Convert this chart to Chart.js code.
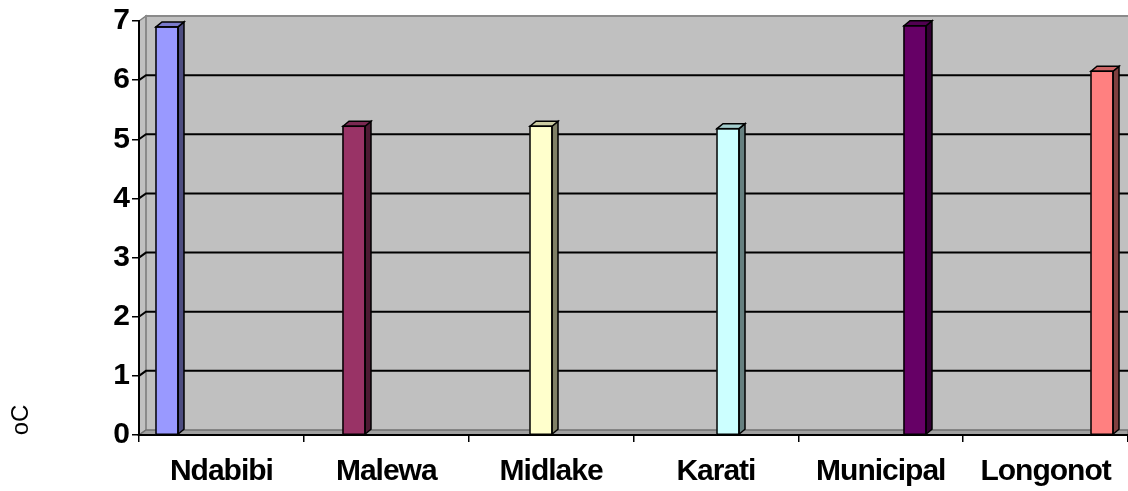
<!DOCTYPE html>
<html>
<head>
<meta charset="utf-8">
<title>Temperature by site</title>
<script src="https://cdn.jsdelivr.net/npm/chart.js@4.4.1/dist/chart.umd.min.js"></script>
<style>
  html, body { margin: 0; padding: 0; background: #ffffff; }
  #wrap { width: 1128px; height: 491px; }
</style>
</head>
<body>
<div id="wrap"><canvas id="chart" width="1128" height="491"></canvas></div>
<script>
// Sites along the x axis and the temperature (°C) measured at each
const categories = ['Ndabibi', 'Malewa', 'Midlake', 'Karati', 'Municipal', 'Longonot'];
const temperatures = [6.9, 5.22, 5.22, 5.18, 6.92, 6.15];
const yTickValues = [0, 1, 2, 3, 4, 5, 6, 7];

// Classic office palette, one colour per column
const faceColors = ['#9999FF', '#993366', '#FFFFCC', '#CCFFFF', '#660066', '#FF8080'];

const FONT = '"Liberation Sans", Arial, sans-serif';
const DEPTH_X = 7, DEPTH_Y = 5;      // wall depth offset
const BAR_DX = 6, BAR_DY = 5;        // column depth offset

function shade(hex, f) {
  const n = parseInt(hex.slice(1), 16);
  const r = Math.round(((n >> 16) & 255) * f);
  const g = Math.round(((n >> 8) & 255) * f);
  const b = Math.round((n & 255) * f);
  return 'rgb(' + r + ',' + g + ',' + b + ')';
}

// Walls, floor and back-wall gridlines of the 3D box
const boxPlugin = {
  id: 'box3d',
  beforeDraw(chart) {
    const { ctx, chartArea: a, scales } = chart;
    const y = scales.y;
    const L = a.left, R = a.right, T = a.top, B = a.bottom;
    // slightly tighter lettering for the bold axis labels
    ctx.letterSpacing = '-1px';
    ctx.save();
    // back wall
    ctx.fillStyle = '#c0c0c0';
    ctx.fillRect(L + DEPTH_X, T - DEPTH_Y, R - L - DEPTH_X, B - T);
    // side wall
    ctx.beginPath();
    ctx.moveTo(L, T); ctx.lineTo(L + DEPTH_X, T - DEPTH_Y);
    ctx.lineTo(L + DEPTH_X, B - DEPTH_Y); ctx.lineTo(L, B);
    ctx.closePath();
    ctx.fillStyle = '#c0c0c0'; ctx.fill();
    ctx.strokeStyle = '#808080'; ctx.lineWidth = 1.5; ctx.stroke();
    // back wall outline
    ctx.beginPath();
    ctx.moveTo(R, T - DEPTH_Y); ctx.lineTo(L + DEPTH_X, T - DEPTH_Y);
    ctx.lineTo(L + DEPTH_X, B - DEPTH_Y);
    ctx.lineWidth = 2; ctx.strokeStyle = '#8a8a8a'; ctx.stroke();
    // floor
    ctx.beginPath();
    ctx.moveTo(L, B); ctx.lineTo(L + DEPTH_X, B - DEPTH_Y);
    ctx.lineTo(R, B - DEPTH_Y); ctx.lineTo(R, B);
    ctx.closePath();
    ctx.fillStyle = '#a0a0a0'; ctx.fill();
    ctx.lineWidth = 1.5; ctx.strokeStyle = '#707070'; ctx.stroke();
    // gridlines on the back wall, running across the side wall
    // (the lowest and highest values are the floor and the wall's top edge)
    ctx.strokeStyle = '#000000'; ctx.lineWidth = 2;
    yTickValues.slice(1, -1).forEach(v => {
      const py = y.getPixelForValue(v);
      ctx.beginPath();
      ctx.moveTo(L, py);
      ctx.lineTo(L + DEPTH_X, py - DEPTH_Y);
      ctx.lineTo(R, py - DEPTH_Y);
      ctx.stroke();
    });
    ctx.restore();
  },
  afterDatasetsDraw(chart) {
    const { ctx } = chart;
    const meta = chart.getDatasetMeta(0);
    ctx.save();
    ctx.lineWidth = 1.5;
    ctx.strokeStyle = '#000000';
    ctx.lineJoin = 'miter';
    meta.data.forEach((bar, i) => {
      const p = bar.getProps(['x', 'y', 'base', 'width'], true);
      const l = p.x - p.width / 2, r = p.x + p.width / 2;
      const top = p.y, base = p.base;
      const col = faceColors[i];
      // side face
      ctx.beginPath();
      ctx.moveTo(r, top); ctx.lineTo(r + BAR_DX, top - BAR_DY);
      ctx.lineTo(r + BAR_DX, base - BAR_DY); ctx.lineTo(r, base);
      ctx.closePath();
      ctx.fillStyle = shade(col, 0.5); ctx.fill(); ctx.stroke();
      // top face
      ctx.beginPath();
      ctx.moveTo(l, top); ctx.lineTo(l + BAR_DX, top - BAR_DY);
      ctx.lineTo(r + BAR_DX, top - BAR_DY); ctx.lineTo(r, top);
      ctx.closePath();
      ctx.fillStyle = shade(col, 0.8); ctx.fill(); ctx.stroke();
      // front face outline
      ctx.strokeRect(l, top, p.width, base - top);
    });
    ctx.restore();
  },
  afterDraw(chart) {
    const { ctx } = chart;
    ctx.save();
    ctx.letterSpacing = '0px';
    ctx.translate(21, 420);
    ctx.rotate(-Math.PI / 2);
    ctx.fillStyle = '#000000';
    ctx.font = '24px ' + FONT;
    ctx.textAlign = 'center';
    ctx.textBaseline = 'middle';
    ctx.fillText('oC', 0, 0);
    ctx.restore();
  }
};

new Chart(document.getElementById('chart'), {
  type: 'bar',
  data: {
    labels: categories,
    datasets: [{
      data: temperatures.map((v, i) => ({ x: i, y: v })),
      xAxisID: 'xb',
      backgroundColor: faceColors,
      borderColor: '#000000',
      borderWidth: 0,
      borderSkipped: false,
      barThickness: 22
    }]
  },
  options: {
    responsive: false,
    animation: false,
    devicePixelRatio: 1,
    layout: { autoPadding: false, padding: { top: 17, right: 0, bottom: 0, left: 0 } },
    plugins: { legend: { display: false }, tooltip: { enabled: false } },
    scales: {
      x: {
        type: 'category',
        position: 'bottom',
        offset: true,
        grid: { offset: true, drawOnChartArea: false, tickLength: 7, color: '#000000', lineWidth: 1.5 },
        border: { color: '#000000', width: 2 },
        ticks: {
          color: '#000000', padding: 12, maxRotation: 0, autoSkip: false,
          font: { family: FONT, size: 30, weight: 'bold' }
        },
        afterFit(s) { s.height = 56; }
      },
      xb: {
        type: 'linear',
        display: false,
        offset: false,
        min: -0.1497,
        max: 5.139
      },
      y: {
        min: 0,
        max: 7,
        afterBuildTicks(s) { s.ticks = yTickValues.map(v => ({ value: v })); },
        grid: { drawOnChartArea: false, tickLength: 7, color: '#000000', lineWidth: 1.5 },
        border: { color: '#000000', width: 2 },
        ticks: {
          color: '#000000', padding: 3,
          font: { family: FONT, size: 30, weight: 'bold' }
        },
        afterFit(s) { s.width = 139; }
      }
    }
  },
  plugins: [boxPlugin]
});
</script>
</body>
</html>
